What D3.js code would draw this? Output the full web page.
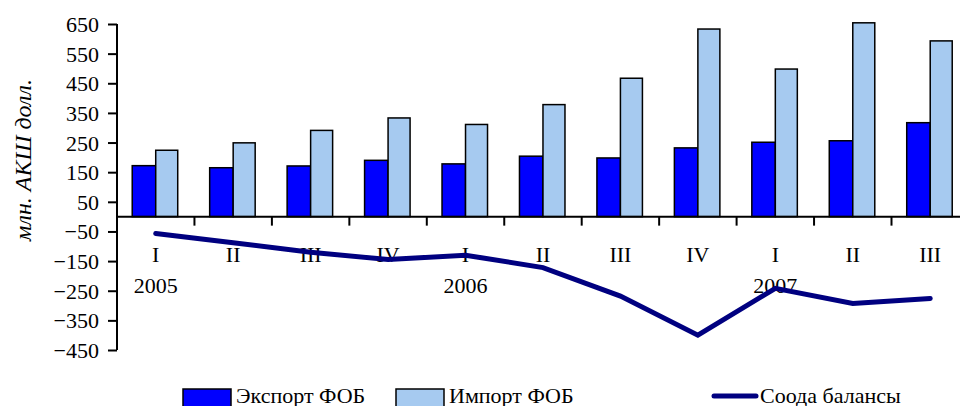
<!DOCTYPE html>
<html><head><meta charset="utf-8">
<script src="https://cdn.jsdelivr.net/npm/d3@7"></script>
<style>body{margin:0;background:#fff}svg{display:block}text{font-family:"Liberation Serif","Times New Roman",serif;fill:#000}</style>
</head><body><svg id="c" width="960" height="406"></svg>
<script>
const quarters = ["I","II","III","IV","I","II","III","IV","I","II","III"];
const years = [{label:"2005", idx:0},{label:"2006", idx:4},{label:"2007", idx:8}];
const exportVals = [172, 165, 171, 190, 178, 204, 198, 232, 251, 256, 317];
const importVals = [224, 249, 291, 333, 311, 378, 467, 633, 498, 654, 593];
const balanceVals = [-57, -88, -120, -145, -130, -172, -268, -400, -242, -293, -276];
const yTicks = [650, 550, 450, 350, 250, 150, 50, -50, -150, -250, -350, -450];
const seriesNames = ["Экспорт ФОБ", "Импорт ФОБ", "Соода балансы"];
const yLabel = "млн. АКШ долл.";

const svg = d3.select("#c");
const x0 = 117, bandW = 77.45;
const idx = d3.range(quarters.length);
const x = d3.scaleBand().domain(idx).range([x0, x0 + bandW * quarters.length]).paddingInner(0).paddingOuter(0);
const y = d3.scaleLinear().domain([-450, 650]).range([350, 24]);
const barW = 23.5;

// bars
const g = svg.append("g");
g.selectAll("rect.exp").data(exportVals).join("rect")
  .attr("x", (d,i) => x(i) + x.bandwidth()/2 - barW)
  .attr("y", d => y(d)).attr("width", barW).attr("height", d => y(0) - y(d))
  .attr("fill", "#0000FF").attr("stroke", "#000").attr("stroke-width", 1.5);
g.selectAll("rect.imp").data(importVals).join("rect")
  .attr("x", (d,i) => x(i) + x.bandwidth()/2)
  .attr("y", d => y(d)).attr("width", barW - 1.5).attr("height", d => y(0) - y(d))
  .attr("fill", "#A6CAF0").attr("stroke", "#000").attr("stroke-width", 1.5);

// y axis
const yAxis = d3.axisLeft(y).tickValues(yTicks).tickSize(9).tickPadding(9);
const ya = svg.append("g").attr("transform", `translate(${x0},0)`).call(yAxis);
ya.select(".domain").attr("stroke", "#000").attr("stroke-width", 2).attr("d", `M0,${y(650)}V${y(-450)}`);
ya.selectAll(".tick line").attr("stroke", "#000").attr("stroke-width", 2);
ya.selectAll(".tick text").style("font-family", '"Liberation Serif",serif').style("font-size", "22px").attr("fill", "#000").attr("dy", "0.34em");

// x axis at zero
const xa = svg.append("g").attr("transform", `translate(0,${y(0)})`);
xa.append("line").attr("x1", x0).attr("x2", 960).attr("stroke", "#000").attr("stroke-width", 2);
xa.selectAll("line.t").data(d3.range(1, quarters.length)).join("line")
  .attr("x1", d => x(d)).attr("x2", d => x(d)).attr("y1", 0).attr("y2", 9)
  .attr("stroke", "#000").attr("stroke-width", 2);
svg.selectAll("text.q").data(quarters).join("text")
  .attr("x", (d,i) => x(i) + x.bandwidth()/2).attr("y", 262)
  .attr("text-anchor", "middle").style("font-size", "22px").text(d => d);
svg.selectAll("text.yr").data(years).join("text")
  .attr("x", d => x(d.idx) + x.bandwidth()/2).attr("y", 293)
  .attr("text-anchor", "middle").style("font-size", "22px").text(d => d.label);

// balance line
const line = d3.line().x((d,i) => x(i) + x.bandwidth()/2).y(d => y(d));
svg.append("path").datum(balanceVals).attr("d", line)
  .attr("fill", "none").attr("stroke", "#000080").attr("stroke-width", 5)
  .attr("stroke-linecap", "round").attr("stroke-linejoin", "miter");

// y label
svg.append("text").attr("transform", "translate(31,160) rotate(-90)")
  .attr("text-anchor", "middle").style("font-size", "24px").style("font-style", "italic").text(yLabel);

// legend
const lg = svg.append("g");
lg.append("rect").attr("x", 183).attr("y", 389).attr("width", 48).attr("height", 20)
  .attr("fill", "#0000FF").attr("stroke", "#000").attr("stroke-width", 1.5);
lg.append("text").attr("x", 236).attr("y", 403).style("font-size", "22px").text(seriesNames[0]);
lg.append("rect").attr("x", 396).attr("y", 389).attr("width", 48).attr("height", 20)
  .attr("fill", "#A6CAF0").attr("stroke", "#000").attr("stroke-width", 1.5);
lg.append("text").attr("x", 449).attr("y", 403).style("font-size", "22px").text(seriesNames[1]);
lg.append("line").attr("x1", 714).attr("x2", 756).attr("y1", 396).attr("y2", 396)
  .attr("stroke", "#000080").attr("stroke-width", 5).attr("stroke-linecap", "round");
lg.append("text").attr("x", 760).attr("y", 403).style("font-size", "22px").text(seriesNames[2]);
</script></body></html>
